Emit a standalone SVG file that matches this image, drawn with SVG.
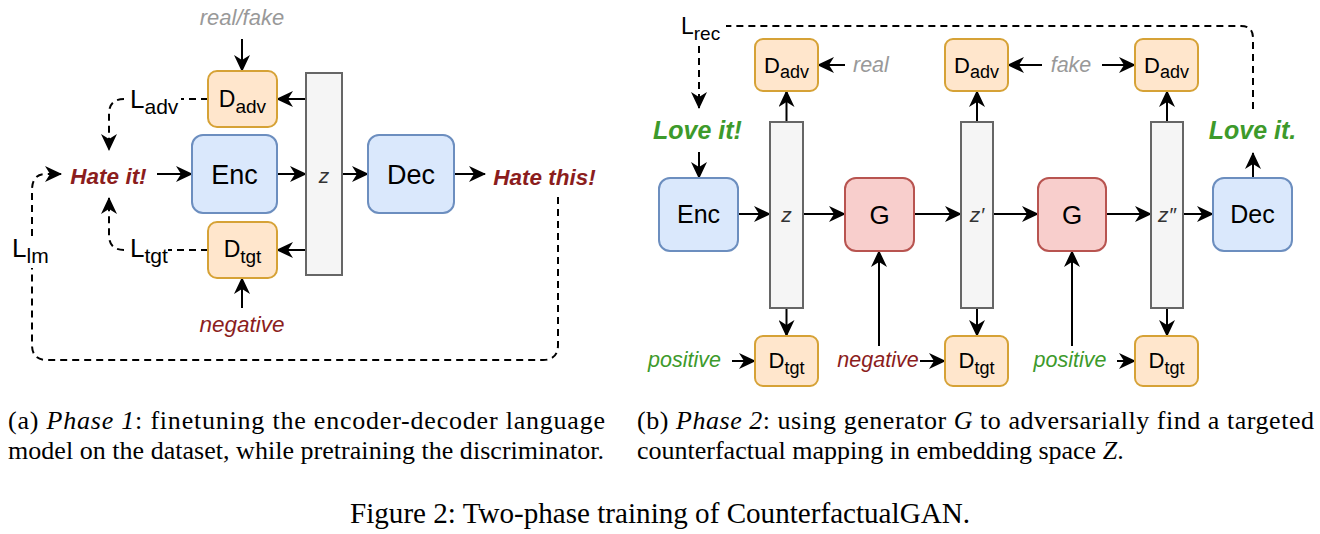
<svg xmlns="http://www.w3.org/2000/svg" width="1320" height="534" viewBox="0 0 1320 534">
<style>
.bg{fill:#fff}
.blue{fill:#dae8fc;stroke:#6c8ebf;stroke-width:2}
.org{fill:#ffe6cc;stroke:#d6a236;stroke-width:2}
.red{fill:#f8cecc;stroke:#b85450;stroke-width:2}
.gray{fill:#f5f5f5;stroke:#666;stroke-width:2}
.sans{font-family:"Liberation Sans",Arial,sans-serif}
.box{font-family:"Liberation Sans",Arial,sans-serif;fill:#000;text-anchor:middle}
.zl{font-family:"Liberation Sans",Arial,sans-serif;font-style:italic;fill:#333;text-anchor:middle;font-size:21px}
.dl{font-family:"Liberation Sans",Arial,sans-serif;fill:#000;text-anchor:middle}
.ln{fill:none;stroke:#000;stroke-width:2}
.dash{fill:none;stroke:#000;stroke-width:2;stroke-dasharray:7 5}
.hate{font-family:"Liberation Sans",Arial,sans-serif;font-weight:bold;font-style:italic;fill:#8b1d1d;text-anchor:middle;font-size:22.5px}
.love{font-family:"Liberation Sans",Arial,sans-serif;font-weight:bold;font-style:italic;fill:#3d9a2b;text-anchor:middle;font-size:25px}
.gr{font-family:"Liberation Sans",Arial,sans-serif;font-style:italic;fill:#999}
.neg{font-family:"Liberation Sans",Arial,sans-serif;font-style:italic;fill:#8b1d1d}
.pos{font-family:"Liberation Sans",Arial,sans-serif;font-style:italic;fill:#3d9a2b}
.cap{font-family:"Liberation Serif","Times New Roman",serif;fill:#000}
</style>
<defs>
<marker id="ah" viewBox="0 0 17 16" refX="16" refY="8" markerWidth="17" markerHeight="16" markerUnits="userSpaceOnUse" orient="auto">
<path d="M0,0 L17,8 L0,16 L5,8 Z" fill="#000"/>
</marker>
</defs>
<rect class="bg" x="0" y="0" width="1320" height="534"/>

<g id="connectors">
<path class="ln" d="M242,39 L242,71" marker-end="url(#ah)"/>
<path class="ln" d="M306,99 L277,99" marker-end="url(#ah)"/>
<path class="ln" d="M306,250 L277,250" marker-end="url(#ah)"/>
<path class="ln" d="M242,308 L242,278" marker-end="url(#ah)"/>
<path class="ln" d="M157,174 L192,174" marker-end="url(#ah)"/>
<path class="ln" d="M277,174 L306,174" marker-end="url(#ah)"/>
<path class="ln" d="M342,174 L368,174" marker-end="url(#ah)"/>
<path class="ln" d="M454,174 L485,174" marker-end="url(#ah)"/>
<path class="dash" d="M208,99 L181,99"/>
<path class="dash" d="M124,99 Q109,99 109,114 L109,150" marker-end="url(#ah)"/>
<path class="dash" d="M208,250 L168,250"/>
<path class="dash" d="M124,250 Q109,250 109,235 L109,198" marker-end="url(#ah)"/>
<path class="dash" d="M558,197 L558,345 Q558,360 543,360 L47,360 Q32,360 32,345 L32,268"/>
<path class="dash" d="M32,236 L32,190 Q32,174 46,174 L61,174" marker-end="url(#ah)"/>
<path class="ln" d="M699,152 L699,178" marker-end="url(#ah)"/>
<path class="ln" d="M738,214 L770,214" marker-end="url(#ah)"/>
<path class="ln" d="M803,214 L845,214" marker-end="url(#ah)"/>
<path class="ln" d="M914,214 L961,214" marker-end="url(#ah)"/>
<path class="ln" d="M993,214 L1038,214" marker-end="url(#ah)"/>
<path class="ln" d="M1106,214 L1151,214" marker-end="url(#ah)"/>
<path class="ln" d="M1183,214 L1213,214" marker-end="url(#ah)"/>
<path class="ln" d="M1253,178 L1253,153" marker-end="url(#ah)"/>
<path class="ln" d="M786.5,122 L786.5,91" marker-end="url(#ah)"/>
<path class="ln" d="M977,122 L977,91" marker-end="url(#ah)"/>
<path class="ln" d="M1167,122 L1167,91" marker-end="url(#ah)"/>
<path class="ln" d="M786.5,308 L786.5,336" marker-end="url(#ah)"/>
<path class="ln" d="M977,308 L977,336" marker-end="url(#ah)"/>
<path class="ln" d="M1167,308 L1167,336" marker-end="url(#ah)"/>
<path class="ln" d="M845,65 L818,65" marker-end="url(#ah)"/>
<path class="ln" d="M1042,65 L1008,65" marker-end="url(#ah)"/>
<path class="ln" d="M1102,65 L1135,65" marker-end="url(#ah)"/>
<path class="ln" d="M732,361 L755,361" marker-end="url(#ah)"/>
<path class="ln" d="M920,361 L945,361" marker-end="url(#ah)"/>
<path class="ln" d="M1117,361 L1135,361" marker-end="url(#ah)"/>
<path class="ln" d="M879,346 L879,251" marker-end="url(#ah)"/>
<path class="ln" d="M1072,346 L1072,251" marker-end="url(#ah)"/>
<path class="dash" d="M1253,109 L1253,38 Q1253,26 1241,26 L726,26"/>
<path class="dash" d="M699,46 L699,108" marker-end="url(#ah)"/>
</g>

<g id="l-dadv"><rect class="org" x="208" y="71" width="69" height="56" rx="9"/><text class="dl" x="242.5" y="107" font-size="23">D<tspan font-size="19" dy="6">adv</tspan></text></g>
<g id="l-enc"><rect class="blue" x="192" y="135" width="85" height="78" rx="11"/><text class="box" x="234.5" y="183.5" font-size="27">Enc</text></g>
<g id="l-dtgt"><rect class="org" x="208" y="222" width="69" height="56" rx="9"/><text class="dl" x="242.5" y="257" font-size="23">D<tspan font-size="19" dy="6">tgt</tspan></text></g>
<g id="l-z"><rect class="gray" x="306" y="73" width="36" height="202"/><text class="zl" x="324" y="183">z</text></g>
<g id="l-dec"><rect class="blue" x="368" y="135" width="86" height="78" rx="11"/><text class="box" x="411" y="183.5" font-size="27">Dec</text></g>
<g id="l-realfake"><text class="gr" x="242" y="25" font-size="22" text-anchor="middle">real/fake</text></g>
<g id="l-negative"><text class="neg" x="242" y="332" font-size="22.5" text-anchor="middle">negative</text></g>
<g id="l-hateit"><text class="hate" x="108.5" y="184">Hate it!</text></g>
<g id="l-hatethis"><text class="hate" x="544.5" y="185">Hate this!</text></g>
<g id="l-ladv"><text class="sans" x="130" y="108" font-size="26">L<tspan font-size="21" dy="6">adv</tspan></text></g>
<g id="l-ltgt"><text class="sans" x="130" y="257" font-size="26">L<tspan font-size="21" dy="6">tgt</tspan></text></g>
<g id="l-llm"><text class="sans" x="12" y="257" font-size="26">L<tspan font-size="21" dy="6">lm</tspan></text></g>

<g id="r-enc"><rect class="blue" x="659" y="178" width="79" height="73" rx="11"/><text class="box" x="698.5" y="223" font-size="25">Enc</text></g>
<g id="r-dadv1"><rect class="org" x="755" y="39" width="63" height="52" rx="8"/><text class="dl" x="786.5" y="73" font-size="22">D<tspan font-size="18" dy="5">adv</tspan></text></g>
<g id="r-z1"><rect class="gray" x="770" y="122" width="33" height="186"/><text class="zl" x="786.5" y="222">z</text></g>
<g id="r-dtgt1"><rect class="org" x="755" y="336" width="63" height="50" rx="8"/><text class="dl" x="786.5" y="368" font-size="22">D<tspan font-size="18" dy="6">tgt</tspan></text></g>
<g id="r-g1"><rect class="red" x="845" y="178" width="69" height="73" rx="11"/><text class="box" x="879.5" y="223.5" font-size="26">G</text></g>
<g id="r-dadv2"><rect class="org" x="945" y="39" width="63" height="52" rx="8"/><text class="dl" x="976.5" y="73" font-size="22">D<tspan font-size="18" dy="5">adv</tspan></text></g>
<g id="r-z2"><rect class="gray" x="961" y="122" width="32" height="186"/><text class="zl" x="977" y="222">z′</text></g>
<g id="r-dtgt2"><rect class="org" x="945" y="336" width="63" height="50" rx="8"/><text class="dl" x="976.5" y="368" font-size="22">D<tspan font-size="18" dy="6">tgt</tspan></text></g>
<g id="r-g2"><rect class="red" x="1038" y="178" width="68" height="73" rx="11"/><text class="box" x="1072" y="223.5" font-size="26">G</text></g>
<g id="r-dadv3"><rect class="org" x="1135" y="39" width="63" height="52" rx="8"/><text class="dl" x="1166.5" y="73" font-size="22">D<tspan font-size="18" dy="5">adv</tspan></text></g>
<g id="r-z3"><rect class="gray" x="1151" y="122" width="32" height="186"/><text class="zl" x="1167" y="222">z″</text></g>
<g id="r-dtgt3"><rect class="org" x="1135" y="336" width="63" height="50" rx="8"/><text class="dl" x="1166.5" y="368" font-size="22">D<tspan font-size="18" dy="6">tgt</tspan></text></g>
<g id="r-dec"><rect class="blue" x="1213" y="178" width="79" height="73" rx="11"/><text class="box" x="1252.5" y="223" font-size="25">Dec</text></g>
<g id="r-loveit1"><text class="love" x="697.5" y="139">Love it!</text></g>
<g id="r-loveit2"><text class="love" x="1252.5" y="139">Love it.</text></g>
<g id="r-real"><text class="gr" x="853" y="72" font-size="21.5">real</text></g>
<g id="r-fake"><text class="gr" x="1071" y="72" font-size="21.5" text-anchor="middle">fake</text></g>
<g id="r-pos1"><text class="pos" x="648" y="367" font-size="21.5">positive</text></g>
<g id="r-neg"><text class="neg" x="878" y="367" font-size="21.5" text-anchor="middle">negative</text></g>
<g id="r-pos2"><text class="pos" x="1070" y="367" font-size="21.5" text-anchor="middle">positive</text></g>
<g id="r-lrec"><text class="sans" x="681" y="34" font-size="23">L<tspan font-size="19" dy="6">rec</tspan></text></g>

<g id="captions">
<text class="cap" x="8" y="429" font-size="26" textLength="597" lengthAdjust="spacing">(a) <tspan font-style="italic">Phase 1</tspan>:  finetuning the encoder-decoder language</text>
<text class="cap" x="8" y="459" font-size="26" textLength="596" lengthAdjust="spacing">model on the dataset, while pretraining the discriminator.</text>
<text class="cap" x="637" y="429" font-size="26" textLength="677" lengthAdjust="spacing">(b) <tspan font-style="italic">Phase 2</tspan>: using generator <tspan font-style="italic">G</tspan> to adversarially find a targeted</text>
<text class="cap" x="637" y="459" font-size="26">counterfactual mapping in embedding space <tspan font-style="italic">Z</tspan>.</text>
<text class="cap" x="350" y="523" font-size="29" textLength="620" lengthAdjust="spacingAndGlyphs">Figure 2: Two-phase training of CounterfactualGAN.</text>
</g>
</svg>
